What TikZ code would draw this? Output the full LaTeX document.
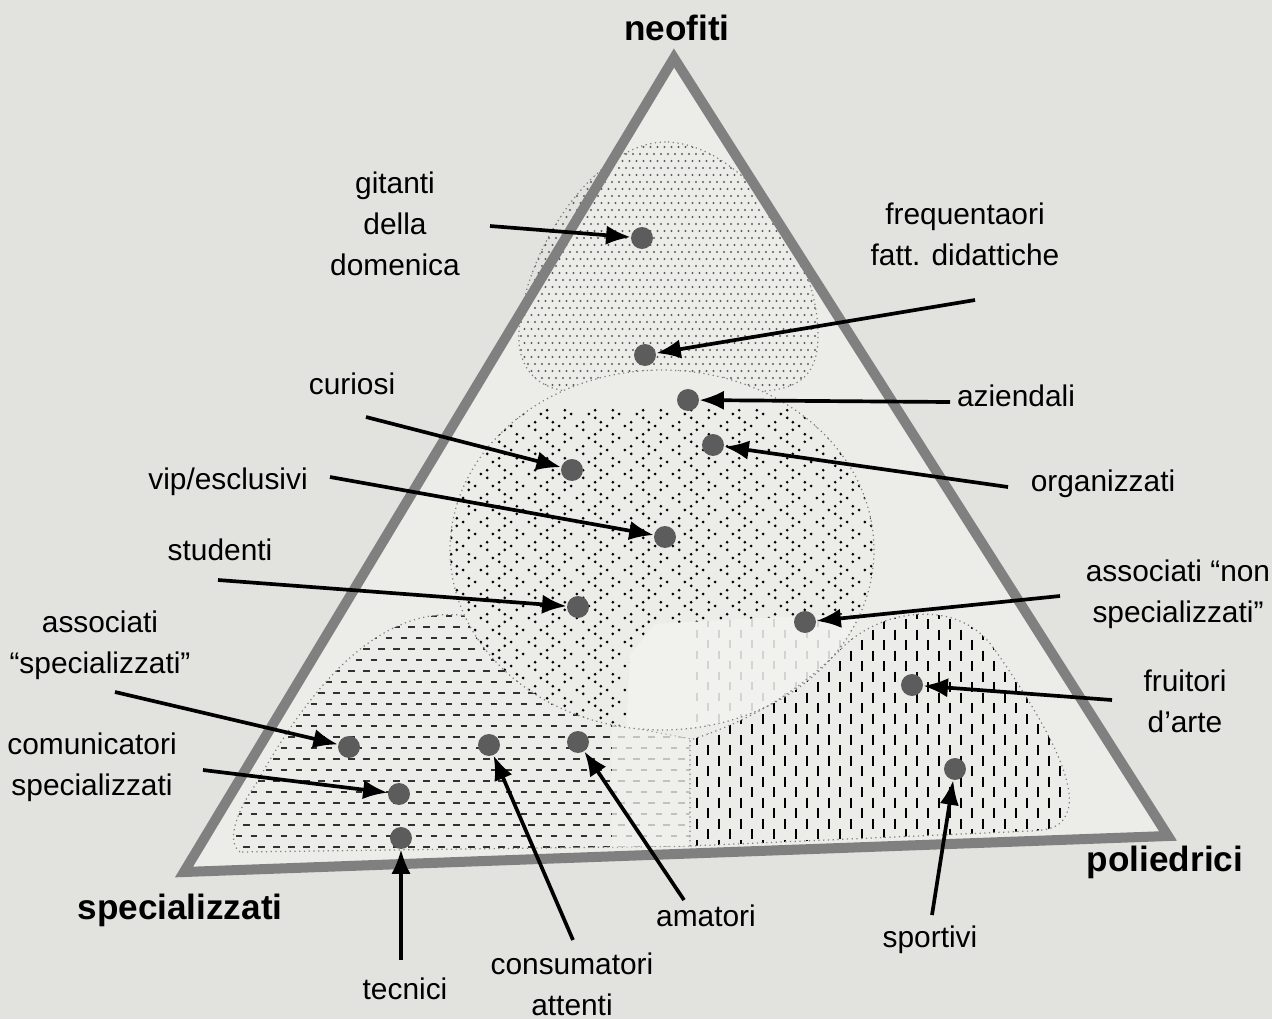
\documentclass[tikz,border=0pt]{standalone}
\usepackage{fontspec}
\setmainfont{Liberation Sans}
\usetikzlibrary{arrows.meta}
\definecolor{PageClr}{RGB}{226,226,223}
\definecolor{InnerClr}{RGB}{236,236,233}
\definecolor{PaleClr}{RGB}{241,241,238}
\definecolor{FrameClr}{RGB}{128,128,128}
\definecolor{SpotClr}{RGB}{92,92,92}
\definecolor{DashClr}{RGB}{50,50,50}
\newcommand{\TopBlob}{(668,142) .. controls (745,146) and (815,250) .. (818,330) .. controls (820,385) and (790,392) .. (740,392) -- (580,392) .. controls (530,392) and (514,360) .. (520,322) .. controls (530,240) and (600,140) .. (668,142)}
\newcommand{\MidDisc}{(662,550) ellipse [x radius=4.24cm, y radius=3.6cm]}
\newcommand{\LowLeft}{(240,852) .. controls (226,842) and (236,812) .. (256,784) .. controls (300,705) and (355,632) .. (425,617) .. controls (500,602) and (570,660) .. (612,724) -- (690,739) -- (690,846) -- cycle}
\newcommand{\LowRight}{(690,846) -- (690,740) .. controls (760,718) and (805,685) .. (845,645) .. controls (885,608) and (960,598) .. (995,650) .. controls (1030,700) and (1078,775) .. (1068,810) .. controls (1062,828) and (1050,830) .. (1030,831) -- cycle}
\newcommand{\PaleZone}{(625,760) -- (630,655) -- (655,624) -- (760,618) -- (900,612) -- (900,760) -- cycle}
\newcommand{\PatchOutline}[1]{\draw[dotted,line width=0.7pt,FrameClr] #1;}
\tikzset{
  spot/.style={circle,fill=SpotClr,minimum size=12.5pt,inner sep=0pt},
  pointer/.style={-{Latex[length=14pt,width=11pt]},line width=2.1pt},
  lab/.style={font=\fontsize{17}{23.5}\selectfont,align=center,inner sep=0pt},
  pole/.style={font=\fontsize{20}{24}\selectfont\bfseries,inner sep=0pt}
}

\begin{document}
\begin{tikzpicture}[x=0.02cm,y=-0.02cm]
\fill[PageClr] (0,0) rectangle (1272,1019);
\useasboundingbox (0,0) rectangle (1272,1019);
\fill[InnerClr] (674,58) -- (1168,836) -- (184,872) -- cycle;
% top area
\begin{scope}
  \clip \TopBlob;
  \foreach \j in {0,...,37}{
    \foreach \i in {0,...,44}{
      \fill[SpotClr] ({514+7*\i+3.5*mod(\j,2)},{140+7*\j}) circle (0.62pt);
    }}
\end{scope}
\PatchOutline{\TopBlob}
% lower left area
\begin{scope}
  \clip \LowLeft;
  \foreach \j in {0,...,22}{
    \foreach \i in {0,...,31}{
      \draw[DashClr,line width=0.9pt] ({228+15*\i+7.5*mod(\j,2)},{605+11*\j}) -- ++(6.5,0);
    }}
\end{scope}
\PatchOutline{\LowLeft}
% middle area
\fill[InnerClr] \MidDisc;
\begin{scope}
  \clip \MidDisc;
  \foreach \j in {0,...,27}{
    \foreach \i in {0,...,18}{
      \pgfmathsetmacro{\cx}{448+24*\i+12*mod(\j,2)}
      \pgfmathsetmacro{\cy}{414+12*\j}
      \pgfmathsetmacro{\s}{1-2*mod(\i+\j,2)}
      \fill ({\cx+3.2*\s},{\cy-3.8}) circle (0.85pt) ({\cx-3.2*\s},\cy) circle (0.85pt) ({\cx+3.2*\s},{\cy+3.8}) circle (0.85pt);
    }}
\end{scope}
% lower right area
\fill[InnerClr] \LowRight;
\begin{scope}
  \clip \LowRight;
  \foreach \i in {0,...,35}{
    \foreach \j in {0,...,12}{
      \draw[line width=1.35pt] ({686+11*\i},{598+21*\j+10.5*mod(\i,2)}) -- ++(0,10);
    }}
\end{scope}
% overlaps
\begin{scope}
  \clip \MidDisc;
  \fill[PaleClr] \PaleZone;
  \clip \PaleZone;
  \foreach \i in {1,...,19}{
    \foreach \j in {0,...,6}{
      \draw[FrameClr!35,line width=0.8pt] ({686+11*\i},{598+21*\j+10.5*mod(\i,2)}) -- ++(0,8);
    }}
\end{scope}
\begin{scope}
  \clip \LowLeft;
  \fill[PaleClr,fill opacity=.75] (612,700) rectangle (692,860);
\end{scope}
\PatchOutline{\MidDisc}
\PatchOutline{\LowRight}
\draw[FrameClr,line width=5.7pt,line join=miter] (674,58) -- (1168,836) -- (184,872) -- cycle;

\node[pole] (neofiti) at (677,28) {neofiti};
\node[pole] (specializzati) at (180,910) {specializzati};
\node[pole] (poliedrici) at (1165,862) {poliedrici};

\node[lab] (l-gitanti) at (395,224) {gitanti\\della\\domenica};
\node[lab] (l-frequentaori) at (965,234) {frequentaori\\fatt. didattiche};
\node[lab] (l-aziendali) at (1016,396) {aziendali};
\node[lab] (l-organizzati) at (1103,484) {organizzati};
\node[lab] (l-curiosi) at (352,384) {curiosi};
\node[lab] (l-vip) at (228,482) {vip/esclusivi};
\node[lab] (l-studenti) at (220,550) {studenti};
\node[lab] (l-assnon) at (1178,594) {associati “non\\specializzati”};
\node[lab] (l-fruitori) at (1185,701) {fruitori\\d'arte};
\node[lab] (l-assspec) at (100,645) {associati\\“specializzati”};
\node[lab] (l-comunicatori) at (92,767) {comunicatori\\specializzati};
\node[lab] (l-tecnici) at (405,989) {tecnici};
\node[lab] (l-consumatori) at (572,984) {consumatori\\attenti};
\node[lab] (l-amatori) at (706,916) {amatori};
\node[lab] (l-sportivi) at (930,940) {sportivi};

\foreach \n/\px/\py/\qx/\qy in {gitanti/642/238/490/226,
    frequentaori/645/355/975/300,
    aziendali/688/400/950/402,
    organizzati/713/445/1008/487,
    curiosi/572/470/366/417,
    vip/665/537/330/477,
    studenti/578/607/218/580,
    assnon/805/622/1060/596,
    fruitori/912/685/1112/700,
    assspec/349/747/115/692,
    comunicatori/399/794/203/770,
    tecnici/401/838/401/960,
    consumatori/489/745/573/940,
    amatori/578/742/684/900,
    sportivi/955/769/932/915}{
  \node[spot] (d-\n) at (\px,\py) {};
  \coordinate (s-\n) at (\qx,\qy);
  \draw[pointer] (s-\n) -- (d-\n);
}
\end{tikzpicture}
\end{document}
